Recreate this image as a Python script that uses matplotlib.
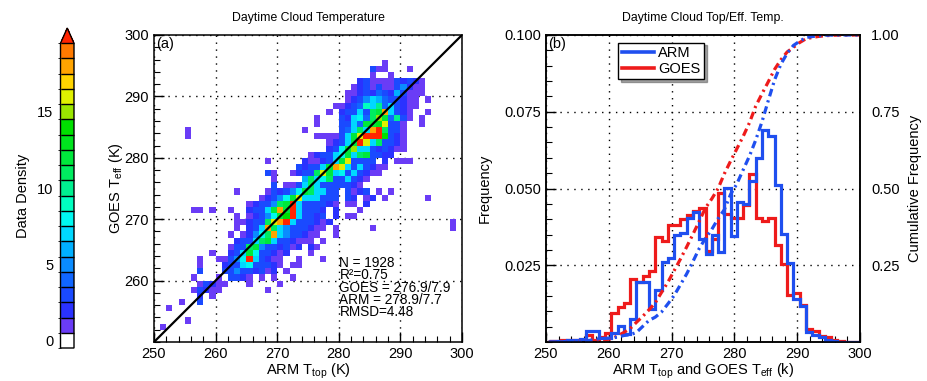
import numpy as np
import matplotlib
matplotlib.use("Agg")
import matplotlib.pyplot as plt
from matplotlib.colors import ListedColormap, BoundaryNorm
from matplotlib.lines import Line2D

plt.rcParams['font.family'] = ['Liberation Sans', 'DejaVu Sans']
plt.rcParams['mathtext.default'] = 'regular'

# ---- panel (a): counts per 1 K cell, (GOES Teff row, first ARM Ttop, counts)
# '.' = 0, 1-9, a..j = 10..19, k = more than 19
density_rows = [
    (295, 287, "1"),
    (294, 285, "311...1"),
    (293, 285, "1..1"),
    (292, 283, "23111132321"),
    (291, 282, "123131135211"),
    (290, 281, "1123243263111"),
    (289, 281, "123576433211.1"),
    (288, 279, "1123497a473211"),
    (287, 278, "1.23373bci7321..1"),
    (286, 276, "1...32784bfc4a31.1"),
    (285, 276, "1...3374ccdg331..1"),
    (284, 255, "1"),
    (284, 274, "1.....347b7ikb331"),
    (283, 255, "1"),
    (283, 276, "111137cgkkke321"),
    (282, 278, "1237ckg7b3321"),
    (281, 278, "238cf77323211"),
    (280, 275, "123378c7bc3322"),
    (279, 268, "1"),
    (279, 274, "211237cg3333.2.111"),
    (278, 273, "32337cig7373211"),
    (277, 268, "31..1233bgc78373211"),
    (276, 269, "1....6b78b337321"),
    (275, 269, "3.1137b73333321"),
    (274, 263, "1"),
    (274, 268, "132358cb7733.3123.1.1"),
    (273, 267, "12358cg777333.32.12.1"),
    (273, 294, "1"),
    (272, 265, "12335bck7333321.11.2"),
    (271, 256, "11.1..1"),
    (271, 265, "2337cick73332.2...1"),
    (270, 263, "1.12358cek73323.2.11"),
    (269, 263, "11233bgik7333212"),
    (269, 298, "1"),
    (268, 263, "1.237ib75333211.1"),
    (268, 285, "1"),
    (268, 298, "1"),
    (267, 262, "1.1258bi7533211..1"),
    (266, 263, "2337bc7332111.1"),
    (265, 262, "133bc5332312.21"),
    (264, 259, "1..237c833212...1"),
    (263, 257, "1..11358k73211..1...1"),
    (262, 257, "1...2337833321.11"),
    (261, 257, "3...335332312.1"),
    (260, 256, "1...1.3321.1.1..1"),
    (259, 257, "13211...1....1"),
    (258, 256, "13211.......1"),
    (257, 257, "2.1"),
    (256, 254, "1..3"),
    (255, 252, "1"),
    (253, 255, "1"),
    (252, 251, "1"),
]
stats = ["N = 1928", "R\u00b2=0.75", "GOES = 276.9/7.9", "ARM = 278.9/7.7", "RMSD=4.48"]

# ---- panel (b): frequency per 1 K bin, bins start at 250.4 K
arm_freq = [0.0004, 0.0004, 0.0004, 0.0005, 0.0008, 0.0010, 0.0035, 0.0035, 0.0012, 0.0012,
            0.0030, 0.0053, 0.0025, 0.0075, 0.0196, 0.0196, 0.0107, 0.0168, 0.0262, 0.0275,
            0.0350, 0.0355, 0.0405, 0.0424, 0.0334, 0.0288, 0.0350, 0.0293, 0.0502, 0.0345,
            0.0455, 0.0448, 0.0524, 0.0598, 0.0690, 0.0670, 0.0513, 0.0353, 0.0258, 0.0140,
            0.0118, 0.0033, 0.0024, 0.0016, 0.0008, 0.0002, 0.0, 0.0, 0.0, 0.0]
goes_freq = [0.0003, 0.0003, 0.0005, 0.0005, 0.0008, 0.0005, 0.0022, 0.0008, 0.0015, 0.0030,
             0.0095, 0.0114, 0.0127, 0.0205, 0.0195, 0.0215, 0.0230, 0.0342, 0.0328, 0.0380,
             0.0380, 0.0400, 0.0415, 0.0426, 0.0437, 0.0298, 0.0336, 0.0485, 0.0418, 0.0404,
             0.0404, 0.0445, 0.0546, 0.0404, 0.0393, 0.0404, 0.0315, 0.0255, 0.0152, 0.0158,
             0.0122, 0.0043, 0.0035, 0.0020, 0.0015, 0.0008, 0.0003, 0.0, 0.0, 0.0]
bin_start = 250.4

den_colors = ['#ffffff', '#6a3cf6', '#2a32ff', '#1a4aff', '#1066ff', '#0a8cff', '#00b0ff',
              '#00d8ff', '#00f8f0', '#00ffc0', '#00f090', '#00ec60', '#00e83c', '#00e41e',
              '#00e000', '#9ae600', '#e0f000', '#ffd400', '#ffa400', '#ff7a00']
over_color = '#ff2400'
blue = '#1f4fef'
red = '#ee1b1b'

code = {'.': 0, 'k': 22}
for i in range(1, 10):
    code[str(i)] = i
for i, ch in enumerate("abcdefghij"):
    code[ch] = 10 + i

lims = [250, 300]
grid = np.zeros((50, 50))
for ty, tx0, s in density_rows:
    for i, ch in enumerate(s):
        grid[ty - lims[0], tx0 - lims[0] + i] = code[ch]
grid = np.ma.masked_equal(grid, 0)

cmap = ListedColormap(den_colors)
cmap.set_over(over_color)
norm = BoundaryNorm(np.arange(-0.5, 20, 1), cmap.N)

fig = plt.figure(figsize=(9.27, 3.81), dpi=100)
W, H = 927, 381

def box(x0, y0, x1, y1):
    return [x0 / W, 1 - y1 / H, (x1 - x0) / W, (y1 - y0) / H]

ax1 = fig.add_axes(box(154, 35, 462, 342))
ax2 = fig.add_axes(box(546, 35, 860, 342))
cax = fig.add_axes(box(60.5, 28, 74, 348))

dot = (0, (1, 4))
edges = np.arange(lims[0], lims[1] + 1)
mesh = ax1.pcolormesh(edges, edges, grid, cmap=cmap, norm=norm, zorder=2)
ax1.plot(lims, lims, color='black', lw=1.6, zorder=3)
ax1.set_xlim(lims)
ax1.set_ylim(lims)
ax1.set_xticks(np.arange(250, 301, 10))
ax1.set_yticks(np.arange(260, 301, 10))
ax1.set_xticks(np.arange(250, 301, 2), minor=True)
ax1.set_yticks(np.arange(250, 301, 2), minor=True)
ax1.grid(True, which='major', color='black', ls=dot, lw=1.0, zorder=1)
ax1.set_axisbelow(True)
ax1.set_title("Daytime Cloud Temperature", fontsize=8.8, pad=10)
ax1.set_xlabel("ARM T$_{top}$ (K)", fontsize=10.5, labelpad=0.5)
ax1.set_ylabel("GOES T$_{eff}$ (K)", fontsize=10.5, labelpad=0)
ax1.text(0.008, 0.992, "(a)", transform=ax1.transAxes, ha='left', va='top', fontsize=10.5)
for i, line in enumerate(stats):
    ax1.text(0.602, 0.257 - i * 0.040, line, transform=ax1.transAxes,
             ha='left', va='center', fontsize=9.8, zorder=4)

cb = fig.colorbar(mesh, cax=cax, extend='max', ticks=[0, 5, 10, 15], drawedges=True)
cb.outline.set_linewidth(1.0)
cb.dividers.set_linewidth(1.0)
cb.dividers.set_color('black')
cax.yaxis.set_ticks_position('left')
cax.yaxis.set_label_position('left')
cax.tick_params(length=0, labelsize=10.5, pad=5)
cb.set_label("Data Density", fontsize=10.5, labelpad=5)

hist_edges = bin_start + np.arange(len(arm_freq) + 1)
ax2.stairs(goes_freq, hist_edges, baseline=None, color=red, lw=2.3, zorder=2)
ax2.stairs(arm_freq, hist_edges, baseline=None, color=blue, lw=2.3, zorder=3)
ax2.set_xlim(lims)
ax2.set_ylim(0, 0.1)
ax2.set_xticks(np.arange(250, 301, 10))
ax2.set_xticks(np.arange(250, 301, 2), minor=True)
ax2.set_yticks([0.025, 0.05, 0.075, 0.1])
ax2.set_yticks(np.arange(0, 0.1001, 0.005), minor=True)
ax2.yaxis.set_major_formatter(matplotlib.ticker.FormatStrFormatter('%.3f'))
ax2.grid(True, which='major', color='black', ls=dot, lw=1.0, zorder=1)
ax2.set_axisbelow(True)
ax2.set_title("Daytime Cloud Top/Eff. Temp.", fontsize=8.8, pad=10)
ax2.set_xlabel("ARM T$_{top}$ and GOES T$_{eff}$ (k)", fontsize=10.5, labelpad=0.5)
ax2.set_ylabel("Frequency", fontsize=10.5, labelpad=9)
ax2.text(0.008, 0.992, "(b)", transform=ax2.transAxes, ha='left', va='top', fontsize=10.5)

ax3 = ax2.twinx()
ax3.set_ylim(0, 1)
cdf_goes = np.concatenate([[0], np.cumsum(goes_freq)]) / np.sum(goes_freq)
cdf_arm = np.concatenate([[0], np.cumsum(arm_freq)]) / np.sum(arm_freq)
dashdot = (0, (2.4, 1.3, 0.7, 1.3))
ax3.plot(hist_edges, cdf_goes, color=red, lw=2.3, ls=dashdot)
ax3.plot(hist_edges, cdf_arm, color=blue, lw=2.3, ls=dashdot)
ax3.set_yticks([0.25, 0.5, 0.75, 1.0])
ax3.yaxis.set_major_formatter(matplotlib.ticker.FormatStrFormatter('%.2f'))
ax3.tick_params(axis='y', length=0, labelsize=10.5, pad=8)
ax3.set_ylabel("Cumulative Frequency", fontsize=10.5, labelpad=6)

handles = [Line2D([], [], color=blue, lw=2.6), Line2D([], [], color=red, lw=2.6)]
leg = ax3.legend(handles, ["ARM", "GOES"], loc='upper left', bbox_to_anchor=(0.23, 0.975),
                 fontsize=10.5, frameon=True, fancybox=False, shadow=True,
                 handlelength=2.2, handletextpad=0.3, borderpad=0.25, labelspacing=0.1,
                 borderaxespad=0)
leg.get_frame().set_edgecolor('black')
leg.get_frame().set_linewidth(1.0)

for ax in (ax1, ax2):
    ax.tick_params(which='both', direction='in', top=False, right=False, labelsize=10.5)
    ax.tick_params(which='major', length=7, width=1.0)
    ax.tick_params(which='minor', length=4, width=0.8)
    for sp in ax.spines.values():
        sp.set_linewidth(1.1)
for sp in ax3.spines.values():
    sp.set_linewidth(1.1)

fig.savefig("out.png", dpi=100)
